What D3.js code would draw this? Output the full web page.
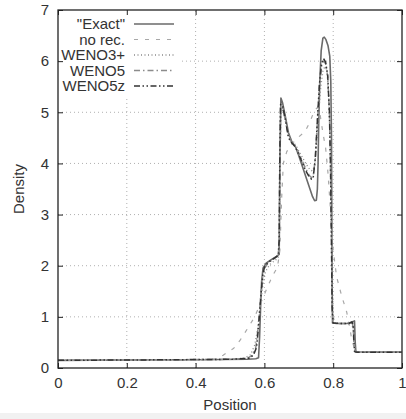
<!DOCTYPE html>
<html>
<head>
<meta charset="utf-8">
<script src="https://cdn.jsdelivr.net/npm/d3@7"></script>
<style>
  body { margin: 0; background: #fff; }
  svg { display: block; }
  text { font-family: "Liberation Sans", Arial, sans-serif; fill: #333; }
</style>
</head>
<body>
<svg id="chart" width="406" height="419"></svg>
<script>
// values, [position, density]
var exact = [[0,0.15],[0.2,0.155],[0.4,0.16],[0.55,0.17],[0.575,0.18],[0.583,0.2],[0.586,0.6],
  [0.589,1.2],[0.592,1.7],[0.596,1.95],[0.605,2.05],[0.62,2.12],[0.635,2.18],[0.643,2.22],
  [0.645,4.0],[0.648,5.28],[0.653,5.18],[0.66,4.95],[0.67,4.6],[0.68,4.42],[0.69,4.33],
  [0.70,4.15],[0.71,3.95],[0.72,3.75],[0.73,3.55],[0.74,3.35],[0.746,3.27],[0.751,3.28],
  [0.754,3.5],[0.756,4.0],[0.758,4.8],[0.761,5.6],[0.765,6.2],[0.77,6.45],[0.774,6.47],
  [0.779,6.42],[0.785,6.3],[0.79,6.1],[0.793,5.6],[0.795,4.5],[0.796,3.0],[0.797,1.5],
  [0.798,0.88],[0.81,0.87],[0.84,0.87],[0.85,0.89],[0.862,0.92],[0.864,0.5],[0.866,0.31],
  [0.9,0.31],[1,0.31]];

var noRec = [[0,0.15],[0.3,0.155],[0.43,0.16],[0.46,0.18],[0.48,0.25],[0.51,0.38],[0.53,0.55],
  [0.55,0.76],[0.57,0.98],[0.59,1.28],[0.61,1.6],[0.625,1.82],[0.638,1.97],[0.645,2.3],
  [0.65,3.3],[0.655,4.0],[0.665,4.23],[0.68,4.38],[0.70,4.52],[0.718,4.62],[0.733,4.82],
  [0.745,5.03],[0.755,5.1],[0.762,4.95],[0.77,4.6],[0.778,4.3],[0.785,3.8],[0.793,3.0],
  [0.80,2.3],[0.81,1.78],[0.825,1.4],[0.839,1.1],[0.848,0.8],[0.854,0.55],[0.862,0.38],
  [0.87,0.32],[0.88,0.31],[1,0.31]];

var weno3 = [[0,0.15],[0.3,0.16],[0.5,0.17],[0.54,0.19],[0.56,0.26],[0.572,0.45],[0.58,0.75],
  [0.588,1.2],[0.595,1.6],[0.603,1.88],[0.615,2.02],[0.63,2.1],[0.64,2.15],[0.644,2.6],
  [0.646,4.3],[0.649,5.0],[0.654,5.05],[0.662,4.8],[0.672,4.52],[0.682,4.42],[0.692,4.35],
  [0.702,4.22],[0.712,4.1],[0.722,3.98],[0.732,3.88],[0.74,3.85],[0.746,3.95],[0.752,4.4],
  [0.758,5.0],[0.764,5.5],[0.77,5.8],[0.776,5.9],[0.782,5.8],[0.787,5.3],[0.791,4.4],
  [0.794,3.2],[0.797,1.8],[0.8,1.0],[0.805,0.88],[0.82,0.87],[0.845,0.87],[0.854,0.88],
  [0.858,0.75],[0.861,0.5],[0.865,0.34],[0.872,0.31],[1,0.31]];

var weno5 = [[0,0.15],[0.3,0.16],[0.5,0.17],[0.55,0.19],[0.565,0.25],[0.575,0.4],[0.582,0.8],
  [0.588,1.3],[0.594,1.75],[0.6,1.95],[0.61,2.05],[0.625,2.12],[0.64,2.2],[0.643,2.5],
  [0.645,4.2],[0.647,5.1],[0.652,5.12],[0.66,4.88],[0.67,4.52],[0.68,4.4],[0.69,4.33],
  [0.70,4.2],[0.71,4.05],[0.72,3.9],[0.73,3.77],[0.737,3.72],[0.742,3.76],[0.748,4.1],
  [0.754,4.8],[0.76,5.5],[0.766,5.9],[0.772,6.0],[0.778,5.95],[0.784,5.7],[0.789,5.0],
  [0.792,4.0],[0.795,2.5],[0.797,1.2],[0.8,0.88],[0.82,0.87],[0.845,0.87],[0.855,0.89],
  [0.858,0.8],[0.86,0.5],[0.863,0.33],[0.87,0.31],[1,0.31]];

var weno5z = [[0,0.15],[0.3,0.16],[0.5,0.17],[0.555,0.19],[0.568,0.25],[0.577,0.4],[0.583,0.8],
  [0.589,1.35],[0.595,1.8],[0.6,1.97],[0.61,2.06],[0.625,2.13],[0.64,2.2],[0.643,2.5],
  [0.645,4.3],[0.647,5.15],[0.652,5.15],[0.66,4.9],[0.67,4.5],[0.68,4.4],[0.69,4.32],
  [0.70,4.18],[0.71,4.02],[0.72,3.86],[0.73,3.74],[0.737,3.69],[0.742,3.73],[0.748,4.1],
  [0.754,4.85],[0.76,5.55],[0.766,5.95],[0.772,6.05],[0.778,5.98],[0.784,5.72],[0.789,5.0],
  [0.792,4.0],[0.795,2.4],[0.797,1.15],[0.8,0.88],[0.82,0.87],[0.845,0.87],[0.855,0.9],
  [0.858,0.85],[0.86,0.55],[0.862,0.32],[0.87,0.31],[1,0.31]];

var legendLabels = ['"Exact"', 'no rec.', 'WENO3+', 'WENO5', 'WENO5z'];
var xTicks = [0, 0.2, 0.4, 0.6, 0.8, 1];
var yTicks = [0, 1, 2, 3, 4, 5, 6, 7];

var svg = d3.select('#chart');
var W = 406, H = 419;
var m = {left: 58, right: 4, top: 10, bottom: 51};
var fs = 15;

svg.append('rect').attr('width', W).attr('height', H).attr('fill', '#fff');
svg.append('rect').attr('x', 0).attr('y', 413).attr('width', W).attr('height', 6).attr('fill', '#f1f1f1');

var x = d3.scaleLinear().domain([0, 1]).range([m.left, W - m.right]);
var y = d3.scaleLinear().domain([0, 7]).range([H - m.bottom, m.top]);

// grid
var grid = svg.append('g').attr('stroke', '#b0b0b0').attr('stroke-width', 1)
  .attr('stroke-dasharray', '1,3');
grid.selectAll('.gx').data(xTicks.slice(1, -1)).enter().append('line')
  .attr('x1', function (d) { return x(d); }).attr('x2', function (d) { return x(d); })
  .attr('y1', y(0)).attr('y2', y(7));
grid.selectAll('.gy').data(yTicks.slice(1, -1)).enter().append('line')
  .attr('y1', function (d) { return y(d); }).attr('y2', function (d) { return y(d); })
  .attr('x1', x(0)).attr('x2', x(1));

// legend background hides the grid
svg.append('rect').attr('x', x(0) + 1).attr('y', y(7) + 1).attr('width', 120).attr('height', 85)
  .attr('fill', '#fff');

svg.append('clipPath').attr('id', 'clip').append('rect')
  .attr('x', x(0)).attr('y', y(7)).attr('width', x(1) - x(0)).attr('height', y(0) - y(7));

var series = [
  {data: exact, color: '#6a6a6a', width: 1.6, dash: null},
  {data: noRec, color: '#a8a8a8', width: 1.2, dash: '4,7'},
  {data: weno3, color: '#8a8a8a', width: 1.3, dash: '1,2.5'},
  {data: weno5, color: '#8c8c8c', width: 1.5, dash: '6,3,1.5,3'},
  {data: weno5z, color: '#333', width: 1.5, dash: '6,2.5,1.5,2.5,1.5,2.5'}
];

var line = d3.line()
  .x(function (d) { return x(d[0]); })
  .y(function (d) { return y(d[1]); });

var plot = svg.append('g').attr('clip-path', 'url(#clip)');
plot.selectAll('path').data(series).enter().append('path')
  .attr('d', function (d) { return line(d.data); })
  .attr('fill', 'none')
  .attr('stroke', function (d) { return d.color; })
  .attr('stroke-width', function (d) { return d.width; })
  .attr('stroke-dasharray', function (d) { return d.dash; })
  .attr('stroke-linejoin', 'round');

// axes, ticks inside on all four sides
var tickLen = 5;
svg.append('g').attr('transform', 'translate(0,' + y(0) + ')')
  .call(d3.axisBottom(x).tickValues(xTicks).tickSize(-tickLen).tickPadding(9)
    .tickFormat(d3.format('')))
  .call(function (g) {
    g.select('.domain').remove();
    g.selectAll('text').attr('font-size', fs).attr('fill', '#333');
  });
svg.append('g').attr('transform', 'translate(0,' + y(7) + ')')
  .call(d3.axisTop(x).tickValues(xTicks).tickSize(-tickLen).tickFormat(''))
  .call(function (g) { g.select('.domain').remove(); });
svg.append('g').attr('transform', 'translate(' + x(0) + ',0)')
  .call(d3.axisLeft(y).tickValues(yTicks).tickSize(-tickLen).tickPadding(9)
    .tickFormat(d3.format('d')))
  .call(function (g) {
    g.select('.domain').remove();
    g.selectAll('text').attr('font-size', fs).attr('fill', '#333');
  });
svg.append('g').attr('transform', 'translate(' + x(1) + ',0)')
  .call(d3.axisRight(y).tickValues(yTicks).tickSize(-tickLen).tickFormat(''))
  .call(function (g) { g.select('.domain').remove(); });

svg.selectAll('.tick line').attr('stroke', '#222');

svg.append('rect').attr('x', x(0)).attr('y', y(7))
  .attr('width', x(1) - x(0)).attr('height', y(0) - y(7))
  .attr('fill', 'none').attr('stroke', '#222').attr('stroke-width', 1.3);

svg.append('text').attr('x', (x(0) + x(1)) / 2).attr('y', 410)
  .attr('text-anchor', 'middle').attr('font-size', fs).text('Position');
svg.append('text')
  .attr('transform', 'translate(24,' + (y(0) + y(7)) / 2 + ') rotate(-90)')
  .attr('text-anchor', 'middle').attr('font-size', fs).text('Density');

// legend
var leg = svg.append('g');
var rows = leg.selectAll('g').data(series).enter().append('g')
  .attr('transform', function (d, i) { return 'translate(0,' + (24 + i * 15.5) + ')'; });
rows.append('text').attr('x', 125).attr('dy', '0.35em').attr('text-anchor', 'end')
  .attr('font-size', fs).text(function (d, i) { return legendLabels[i]; });
rows.append('line').attr('x1', 134).attr('x2', 174)
  .attr('stroke', function (d) { return d.color; })
  .attr('stroke-width', function (d) { return d.width; })
  .attr('stroke-dasharray', function (d) { return d.dash; });
</script>
</body>
</html>
